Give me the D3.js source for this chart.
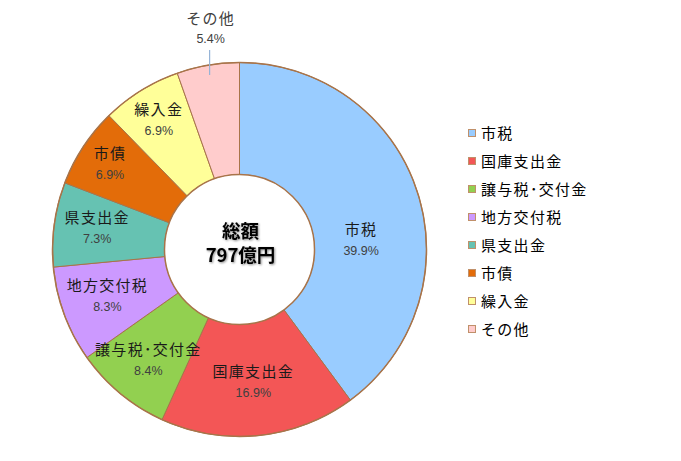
<!DOCTYPE html>
<html>
<head>
<meta charset="utf-8">
<script src="https://cdn.jsdelivr.net/npm/d3@7/dist/d3.min.js"></script>
<style>
  body { margin: 0; background: #fff; }
  svg { display: block; }
</style>
</head>
<body>
<div id="chart"></div>
<script>
// data
const categories = ['市税', '国庫支出金', '譲与税･交付金', '地方交付税', '県支出金', '市債', '繰入金', 'その他'];
const shares = [39.9, 16.9, 8.4, 8.3, 7.3, 6.9, 6.9, 5.4];
const shareLabels = ['39.9%', '16.9%', '8.4%', '8.3%', '7.3%', '6.9%', '6.9%', '5.4%'];
const centerLines = ['総額', '797億円'];

const colors = ['#99CCFF', '#F35656', '#92D050', '#CC99FF', '#66C2B2', '#E36C09', '#FFFF99', '#FFCCCC'];

const width = 681;
const height = 461;
const cx = 239.5, cy = 249.5;
const rOut = 187, rIn = 75;
const edge = '#A8744A';
const jp = '"Noto Sans CJK JP", "Noto Sans", sans-serif';

// where the label pair sits inside each slice (radius, turn in degrees from the middle)
const labelRadius = [122, 133, 143, 140, 144, 155, 153];
const labelTurn = [13.7, 0, 0, 1, 1, 0, 0];

const svg = d3.select('#chart')
    .append('svg')
    .attr('width', width)
    .attr('height', height);

const defs = svg.append('defs');
defs.append('filter')
    .attr('id', 'shadow')
    .attr('x', '-20%').attr('y', '-20%')
    .attr('width', '140%').attr('height', '140%')
    .append('feDropShadow')
    .attr('dx', 1).attr('dy', 1)
    .attr('stdDeviation', 1)
    .attr('flood-color', '#000')
    .attr('flood-opacity', 0.45);

const pie = d3.pie().sort(null).value(d => d);
const arcs = pie(shares);
const arc = d3.arc().innerRadius(rIn).outerRadius(rOut);

const g = svg.append('g').attr('transform', `translate(${cx},${cy})`);

g.selectAll('path.slice')
    .data(arcs)
    .join('path')
    .attr('class', 'slice')
    .attr('d', arc)
    .attr('fill', (d, i) => colors[i])
    .attr('stroke', edge)
    .attr('stroke-width', 1);

// outer and inner rims
g.append('circle').attr('r', rOut).attr('fill', 'none').attr('stroke', edge).attr('stroke-width', 1.5);
g.append('circle').attr('r', rIn).attr('fill', '#fff').attr('stroke', edge).attr('stroke-width', 1.5);

const polar = (a, r) => [r * Math.sin(a), -r * Math.cos(a)];
const midAngle = d => (d.startAngle + d.endAngle) / 2;

// labels inside slices
arcs.forEach((d, i) => {
    if (i >= labelRadius.length) return;
    const [x, y] = polar(midAngle(d) + labelTurn[i] * Math.PI / 180, labelRadius[i]);
    g.append('text')
        .attr('x', x).attr('y', y - 10.5 + 5.5)
        .attr('text-anchor', 'middle')
        .attr('font-family', jp)
        .attr('font-size', 15)
        .attr('letter-spacing', 1.3)
        .attr('fill', '#1a1a1a')
        .text(categories[i]);
    g.append('text')
        .attr('x', x).attr('y', y + 10.5 + 4.5)
        .attr('text-anchor', 'middle')
        .attr('font-family', '"Liberation Sans", Arial, sans-serif')
        .attr('font-size', 12.5)
        .attr('fill', '#404040')
        .text(shareLabels[i]);
});

// the last slice is labelled outside with a leader line
const last = arcs[arcs.length - 1];
const [lx, ly0] = polar(midAngle(last), 177);
const ly1 = ly0 - 25;
g.append('line')
    .attr('x1', lx).attr('y1', ly0)
    .attr('x2', lx).attr('y2', ly1)
    .attr('stroke', '#95B3D7')
    .attr('stroke-width', 1.2);
g.append('text')
    .attr('x', lx + 1).attr('y', ly1 - 12 + 4.5)
    .attr('text-anchor', 'middle')
    .attr('font-family', '"Liberation Sans", Arial, sans-serif')
    .attr('font-size', 12.5)
    .attr('fill', '#404040')
    .text(shareLabels[shareLabels.length - 1]);
g.append('text')
    .attr('x', lx + 1).attr('y', ly1 - 32 + 5.5)
    .attr('text-anchor', 'middle')
    .attr('font-family', jp)
    .attr('font-size', 15)
    .attr('letter-spacing', 1.3)
    .attr('fill', '#404040')
    .text(categories[categories.length - 1]);

// total in the hole, one text block with two lines
const total = g.append('text')
    .attr('text-anchor', 'middle')
    .attr('font-family', jp)
    .attr('font-size', 18.5)
    .attr('font-weight', 'bold')
    .attr('fill', '#000')
    .attr('filter', 'url(#shadow)');
total.selectAll('tspan')
    .data(centerLines)
    .join('tspan')
    .attr('x', 1)
    .attr('y', (d, i) => -18 + i * 24 + 6.5)
    .text(d => d);

// legend
const legendY = d3.scalePoint()
    .domain(categories)
    .range([133, 329]);

const legend = svg.append('g')
    .selectAll('g')
    .data(categories)
    .join('g')
    .attr('transform', d => `translate(468,${legendY(d)})`);

legend.append('rect')
    .attr('x', 0.5).attr('y', -3.5)
    .attr('width', 7).attr('height', 7)
    .attr('fill', (d, i) => colors[i])
    .attr('stroke', '#C0906A')
    .attr('stroke-width', 1);

legend.append('text')
    .attr('x', 13).attr('y', 5.5)
    .attr('font-family', jp)
    .attr('font-size', 15)
    .attr('letter-spacing', 1.3)
    .attr('fill', '#000')
    .text(d => d);
</script>
</body>
</html>
